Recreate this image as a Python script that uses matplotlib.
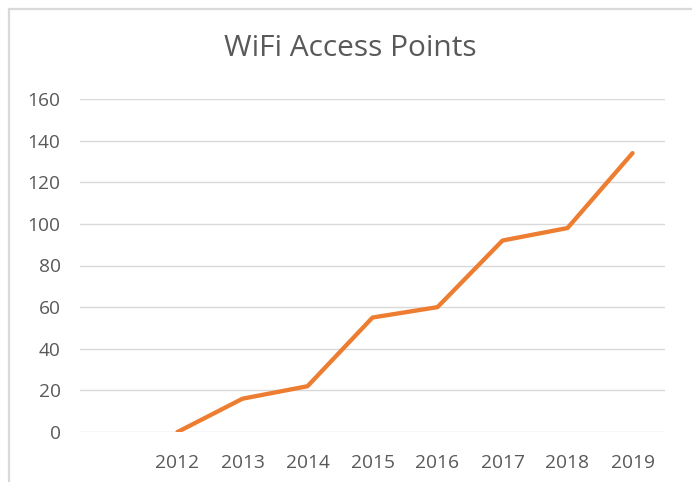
import matplotlib.pyplot as plt
from matplotlib.patches import Rectangle

# Chart data (first category slot is blank in the original sheet)
years = ['', '2012', '2013', '2014', '2015', '2016', '2017', '2018', '2019']
access_points = [None, 0, 16, 22, 55, 60, 92, 98, 134]

plt.rcParams['font.family'] = ['Open Sans', 'DejaVu Sans']

fig = plt.figure(figsize=(6.92, 4.82), dpi=100)
ax = fig.add_axes([80 / 692, 50 / 482, 585 / 692, 333 / 482])

# Chart area border (light gray frame, cut off at right and bottom)
fig.add_artist(Rectangle((9 / 692, -0.1), 1.2, (482 - 9) / 482 + 0.1,
                         transform=fig.transFigure, fill=False,
                         edgecolor='#d9d9d9', linewidth=1.6))

pos = [i for i, v in enumerate(access_points) if v is not None]
vals = [v for v in access_points if v is not None]
ax.plot(pos, vals, color='#ED7D31', linewidth=3.1, solid_capstyle='round',
        solid_joinstyle='round', zorder=3)

ax.set_xlim(-0.5, len(years) - 0.5)
ax.set_ylim(0, 160)
ax.set_yticks(range(0, 161, 20))
ax.set_xticks(range(len(years)))
ax.set_xticklabels(years)

ax.grid(axis='y', color='#d9d9d9', linewidth=1)
ax.set_axisbelow(True)
for s in ax.spines.values():
    s.set_visible(False)
ax.tick_params(length=0, labelsize=13.8, colors='#595959')
ax.tick_params(axis='x', pad=16)
ax.tick_params(axis='y', pad=14)

fig.text(350 / 692, 1 - 49 / 482, 'WiFi Access Points', ha='center', va='center',
         fontsize=21.5, color='#595959')

fig.savefig('out.png', dpi=100)
